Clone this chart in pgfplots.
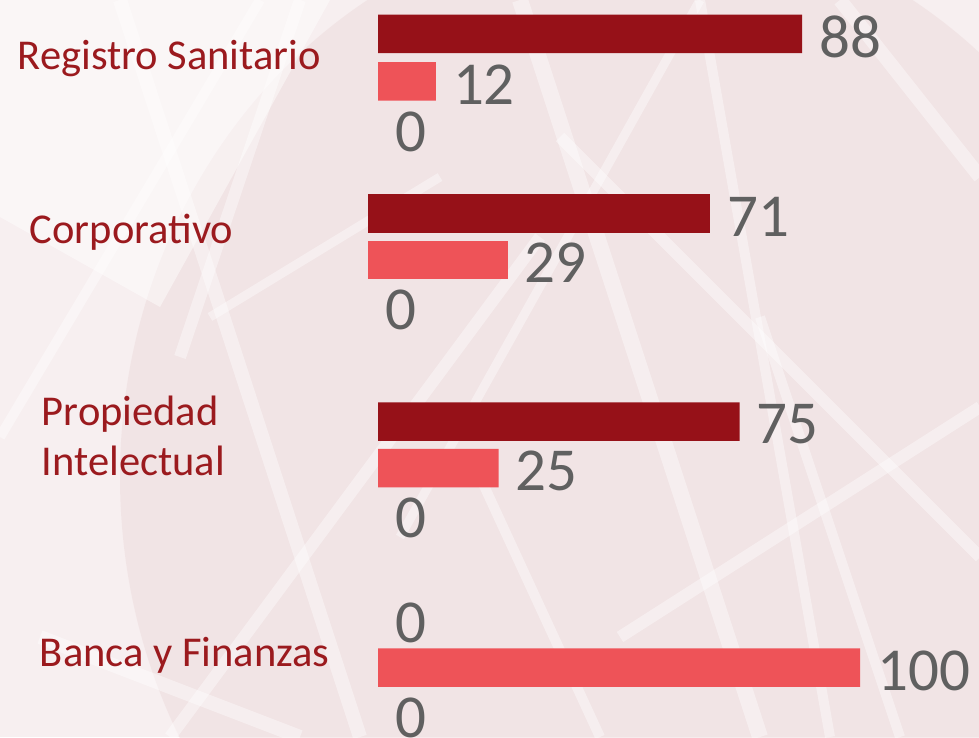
\documentclass[border=0pt]{standalone}
\usepackage{pgfplots}
\usepackage{pgfplotstable}
\pgfplotsset{compat=1.18}
\usepackage{fontspec}
\setmainfont{Carlito}
\definecolor{darkbar}{HTML}{961118}
\definecolor{lightbar}{HTML}{EE5358}
\definecolor{numgray}{HTML}{606060}
\definecolor{catred}{HTML}{9B1A1E}
\definecolor{bgpink}{HTML}{F7EFF0}
\definecolor{bgdark}{HTML}{EDDADB}

% values (val) and vertical bar positions (pos, pt from the bottom)
\pgfplotstableread{
val pos
88 703
75 315.5
}\darkMain
\pgfplotstableread{
val pos
0 117
}\darkZero
\pgfplotstableread{
val pos
12 655.5
25 269
100 69.5
}\lightMain
\pgfplotstableread{
val pos
0 608.5
0 222
0 22.5
}\zeroMain
\pgfplotstableread{
val pos
71 523.5
}\darkCorp
\pgfplotstableread{
val pos
29 477
}\lightCorp
\pgfplotstableread{
val pos
0 430
}\zeroCorp

\pgfplotsset{barbase/.style={
  scale only axis, width=601pt, height=737pt,
  xmin=0, xmax=124.69, ymin=0, ymax=737,
  xbar, bar width=38.5pt, bar shift=0pt,
  axis line style={draw=none}, tick style={draw=none},
  xtick=\empty, clip=false,
  /pgf/number format/assume math mode=true,
  nodes near coords,
  every node near coord/.append style={font=\fontsize{61}{61}\selectfont,
    text=numgray, anchor=west, inner sep=0pt, xshift=17pt, yshift=-3pt},
}}

\begin{document}
\begin{tikzpicture}
\fill[bgpink] (0,0) rectangle (979pt,737pt);
\begin{scope}
\clip (0,0) rectangle (979pt,737pt);
\fill[bgdark, opacity=0.5] (640pt,260pt) ellipse (520pt and 560pt);
\fill[white, opacity=0.45] (0pt,737pt) -- (330pt,737pt) -- (160pt,430pt) -- (0pt,520pt) -- cycle;
\foreach \a/\b/\c/\d/\w in {
  120/737/360/0/14, 300/737/180/380/12, 520/737/760/0/16, 560/600/980/180/12,
  700/737/830/0/10, 840/737/980/560/14, 0/300/260/737/10, 170/0/540/500/12,
  400/200/700/737/9, 900/0/760/420/10, 980/330/620/100/12, 40/100/300/0/14,
  600/0/480/260/10, 210/420/440/560/9}
  \draw[white, line width=\w pt, opacity=0.4] (\a pt,\b pt) -- (\c pt,\d pt);
\end{scope}

\begin{axis}[barbase, at={(378pt,0pt)}, anchor=south west,
  ytick={678.5,505,301.5,82},
  yticklabels={Registro Sanitario,\hspace*{12pt}Corporativo,\hspace*{24pt}Propiedad\\\hspace*{24pt}Intelectual,\hspace*{22pt}Banca y Finanzas},
  yticklabel style={anchor=west, xshift=-356pt, inner sep=0pt, align=left,
    font=\fontsize{42.5}{50}\selectfont, text=catred},
]
\addplot[fill=darkbar, draw=none] table[x=val, y=pos] {\darkMain};
\addplot[fill=none, draw=none] table[x=val, y=pos] {\darkZero};
\addplot[fill=lightbar, draw=none] table[x=val, y=pos] {\lightMain};
\addplot[fill=none, draw=none] table[x=val, y=pos] {\zeroMain};
\end{axis}

\begin{axis}[barbase, at={(368pt,0pt)}, anchor=south west, ytick=\empty]
\addplot[fill=darkbar, draw=none] table[x=val, y=pos] {\darkCorp};
\addplot[fill=lightbar, draw=none] table[x=val, y=pos] {\lightCorp};
\addplot[fill=none, draw=none] table[x=val, y=pos] {\zeroCorp};
\end{axis}
\pgfresetboundingbox
\useasboundingbox (0,0) rectangle (979pt,737pt);
\end{tikzpicture}
\end{document}
